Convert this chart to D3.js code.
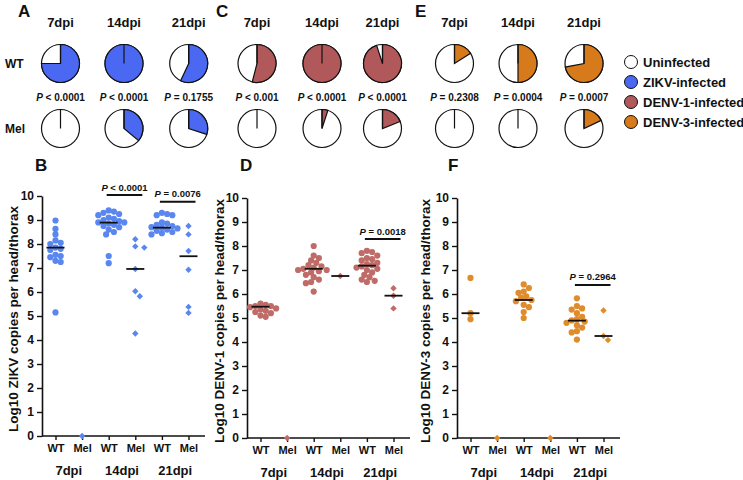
<!DOCTYPE html>
<html><head><meta charset="utf-8">
<script src="https://cdn.jsdelivr.net/npm/d3@7"></script>
<style>
body{margin:0;background:#fff}
svg{display:block;font-family:"Liberation Sans",Arial,sans-serif;font-weight:bold}
</style>
</head><body><svg id="c" width="743" height="480"></svg>
<script>
// ---------- DATA ----------
const dpiLabels = ["7dpi", "14dpi", "21dpi"];
const genotypeLabels = ["WT", "Mel"];
const yTickValues = [0,1,2,3,4,5,6,7,8,9,10];
const legendLabels = ["Uninfected", "ZIKV-infected", "DENV-1-infected", "DENV-3-infected"];
const legendColors = ["#ffffff", "#4a68f2", "#b0585a", "#d67a1c"];

// infected fractions (pie charts)
const zikvPieWT = [0.75, 1, 0.57];
const zikvPieMel = [0, 0.36, 0.30];
const denv1PieWT = [0.54, 1, 0.95];
const denv1PieMel = [0, 0.05, 0.19];
const denv3PieWT = [0.16, 0.5, 0.72];
const denv3PieMel = [0, 0, 0.18];
const zikvPieP = ["< 0.0001", "< 0.0001", "= 0.1755"];
const denv1PieP = ["< 0.001", "< 0.0001", "< 0.0001"];
const denv3PieP = ["= 0.2308", "= 0.0004", "= 0.0007"];

// Log10 copies per head/thorax
const zikvWT7 = [8.98, 8.63, 8.4, 8.15, 8.05, 8.0, 7.85, 7.8, 7.75, 7.55, 7.5, 7.45, 7.3, 7.25, 5.15];
const zikvMel7 = [0];
const zikvWT14 = [9.4, 9.35, 9.3, 9.25, 9.2, 9.1, 9.05, 9.0, 8.95, 8.9, 8.9, 8.85, 8.8, 8.75, 8.7, 8.6, 8.5, 8.4, 7.5, 7.2];
const zikvMel14 = [8.2, 7.9, 7.85, 6.96, 6.03, 5.82, 4.27];
const zikvWT21 = [9.3, 9.25, 9.2, 9.2, 8.9, 8.85, 8.8, 8.75, 8.7, 8.68, 8.65, 8.6, 8.55, 8.5, 8.45, 8.4];
const zikvMel21 = [8.75, 8.4, 7.71, 6.93, 5.38, 5.13];
const zikvMedians = [7.85, null, 8.89, 6.96, 8.68, 7.49];

const denv1WT7 = [5.6, 5.55, 5.5, 5.5, 5.45, 5.4, 5.35, 5.3, 5.25, 5.2, 5.1, 5.05];
const denv1Mel7 = [0];
const denv1WT14 = [8.0, 7.6, 7.5, 7.4, 7.3, 7.2, 7.15, 7.1, 7.05, 7.0, 7.0, 6.95, 6.9, 6.8, 6.7, 6.6, 6.5, 6.45, 6.1];
const denv1Mel14 = [6.75];
const denv1WT21 = [7.8, 7.75, 7.7, 7.6, 7.5, 7.45, 7.4, 7.3, 7.25, 7.2, 7.15, 7.1, 7.05, 7.0, 6.9, 6.8, 6.7, 6.6, 6.55, 6.5];
const denv1Mel21 = [6.24, 5.93, 5.4];
const denv1Medians = [5.47, null, 7.05, 6.75, 7.18, 5.93];

const denv3WT7 = [6.67, 5.2, 4.95];
const denv3Mel7 = [0];
const denv3WT14 = [6.4, 6.25, 6.1, 6.05, 5.9, 5.85, 5.75, 5.7, 5.55, 5.45, 5.25, 5.0];
const denv3Mel14 = [0];
const denv3WT21 = [5.82, 5.5, 5.4, 5.35, 5.2, 5.05, 4.95, 4.9, 4.85, 4.8, 4.7, 4.6, 4.45, 4.4, 4.1];
const denv3Mel21 = [5.31, 4.25, 4.08];
const denv3Medians = [5.2, null, 5.75, null, 4.89, 4.25];

// significance bars: [group index, label, level]
const zikvSig = [[1, "< 0.0001", 10.04], [2, "= 0.0076", 9.76]];
const denv1Sig = [[2, "= 0.0018", 8.29]];
const denv3Sig = [[2, "= 0.2964", 6.38]];

// ---------- DRAW ----------
const svg = d3.select("#c");
const ink = "#111";

function letter(txt, x, y) {
  svg.append("text").attr("x", x).attr("y", y).attr("font-size", 17).attr("fill", ink).text(txt);
}
function pText(g, x, y, rest, size) {
  const t = g.append("text").attr("x", x).attr("y", y).attr("text-anchor", "middle")
    .attr("font-size", size).attr("fill", ink);
  t.append("tspan").attr("font-style", "italic").text("P");
  t.append("tspan").text(" " + rest);
}

// ----- Pie rows -----
const pieR = 19;
const arc = d3.arc().innerRadius(0).outerRadius(pieR).startAngle(0);
function pieBlock(cx, wt, mel, pLabels, color) {
  const g = svg.append("g");
  const rows = [wt, mel];
  const rowY = [63.5, 128.5];
  dpiLabels.forEach((lab, i) => {
    g.append("text").attr("x", cx[i]).attr("y", 27).attr("text-anchor", "middle")
      .attr("font-size", 13).attr("fill", ink).text(lab);
    rows.forEach((row, r) => {
      const pg = g.append("g").attr("transform", `translate(${cx[i]},${rowY[r]})`);
      pg.append("circle").attr("r", pieR).attr("fill", "#fff").attr("stroke", ink).attr("stroke-width", 1.2);
      if (row[i] > 0) {
        pg.append("path").attr("d", arc({endAngle: row[i] * 2 * Math.PI}))
          .attr("fill", color).attr("stroke", ink).attr("stroke-width", 1.2);
      }
      pg.append("line").attr("x1", 0).attr("y1", 0).attr("x2", 0).attr("y2", -pieR)
        .attr("stroke", ink).attr("stroke-width", 1.2);
    });
    pText(g, cx[i], 101, pLabels[i], 10);
  });
}
pieBlock([60.5, 124, 188.7], zikvPieWT, zikvPieMel, zikvPieP, legendColors[1]);
pieBlock([257, 322, 382.5], denv1PieWT, denv1PieMel, denv1PieP, legendColors[2]);
pieBlock([454.5, 518, 584], denv3PieWT, denv3PieMel, denv3PieP, legendColors[3]);

svg.append("text").attr("x", 5).attr("y", 68).attr("font-size", 12).attr("fill", ink).text("WT");
svg.append("text").attr("x", 5).attr("y", 133).attr("font-size", 12).attr("fill", ink).text("Mel");

letter("A", 18, 17);
letter("C", 216, 17);
letter("E", 415, 17);

// legend
const lg = svg.append("g");
legendLabels.forEach((lab, i) => {
  const y = 62 + i * 20;
  lg.append("circle").attr("cx", 631).attr("cy", y).attr("r", 6.5)
    .attr("fill", legendColors[i]).attr("stroke", ink).attr("stroke-width", 1);
  lg.append("text").attr("x", 643).attr("y", y + 4.6).attr("font-size", 13).attr("fill", ink).text(lab);
});

// ----- Scatter panels -----
function swarm(vals, y, minDist, step) {
  const items = vals.map((v, i) => ({v, i, y: y(v)})).sort((a, b) => b.v - a.v);
  const placed = [];
  items.forEach(it => {
    let k = 0, dx = 0;
    while (true) {
      dx = k === 0 ? 0 : (k % 2 ? 1 : -1) * Math.ceil(k / 2) * step;
      const ok = placed.every(p => Math.hypot(p.dx - dx, p.y - it.y) >= minDist);
      if (ok) break;
      k++;
    }
    it.dx = dx;
    placed.push(it);
  });
  return items;
}

const diamond = "M0,-3.2L3.2,0L0,3.2L-3.2,0Z";

function scatterPanel(opts) {
  const {x0, yBottom, yTop, groups, medians, sig, ptColor, title, titleX} = opts;
  const g = svg.append("g");
  const cats = d3.range(6);
  const x = d3.scalePoint().domain(cats).range([x0 + 13.5, x0 + 146.5]);
  const y = d3.scaleLinear().domain([0, 10]).range([yBottom, yTop]);

  // y axis
  const ya = g.append("g").attr("transform", `translate(${x0},0)`)
    .call(d3.axisLeft(y).tickValues(yTickValues).tickSize(5).tickPadding(3).tickSizeOuter(0));
  ya.select(".domain").attr("stroke", ink).attr("stroke-width", 1.6);
  ya.selectAll(".tick line").attr("stroke", ink).attr("stroke-width", 1.4);
  ya.selectAll(".tick text").attr("font-size", 12).attr("font-family", "Liberation Sans, Arial, sans-serif")
    .attr("font-weight", "bold").attr("fill", ink);

  // x axis
  g.append("line").attr("x1", x0).attr("x2", x0 + 163).attr("y1", yBottom).attr("y2", yBottom)
    .attr("stroke", ink).attr("stroke-width", 1.6);
  const xa = g.append("g").attr("transform", `translate(0,${yBottom})`)
    .call(d3.axisBottom(x).tickSize(4).tickSizeOuter(0).tickFormat(i => genotypeLabels[i % 2]).tickPadding(4));
  xa.select(".domain").remove();
  xa.selectAll(".tick line").attr("stroke", ink).attr("stroke-width", 1.4);
  xa.selectAll(".tick text").attr("font-size", 11).attr("font-family", "Liberation Sans, Arial, sans-serif")
    .attr("font-weight", "bold").attr("fill", ink);

  dpiLabels.forEach((lab, i) => {
    g.append("text").attr("x", (x(2 * i) + x(2 * i + 1)) / 2).attr("y", yBottom + 39)
      .attr("text-anchor", "middle").attr("font-size", 13).attr("fill", ink).text(lab);
  });

  // y title
  g.append("text").attr("transform", `translate(${titleX},${(yBottom + yTop) / 2 + 3}) rotate(-90)`)
    .attr("text-anchor", "middle").attr("font-size", 13.5).attr("fill", ink).text(title);

  // points
  groups.forEach((vals, ci) => {
    const isMel = ci % 2 === 1;
    const pts = swarm(vals, y, isMel ? 6 : 5.2, isMel ? 4.5 : 2.6);
    pts.forEach(p => {
      if (isMel) {
        g.append("path").attr("d", diamond)
          .attr("transform", `translate(${x(ci) + p.dx},${p.y})`).attr("fill", ptColor);
      } else {
        g.append("circle").attr("cx", x(ci) + p.dx).attr("cy", p.y).attr("r", 3.1).attr("fill", ptColor);
      }
    });
  });

  // medians
  medians.forEach((m, ci) => {
    if (m === null) return;
    g.append("line").attr("x1", x(ci) - 9).attr("x2", x(ci) + 9).attr("y1", y(m)).attr("y2", y(m))
      .attr("stroke", ink).attr("stroke-width", 1.8);
  });

  // significance
  sig.forEach(([gi, lab, lvl]) => {
    const xa1 = x(2 * gi) - 2, xa2 = x(2 * gi + 1) + 7;
    g.append("line").attr("x1", xa1).attr("x2", xa2).attr("y1", y(lvl)).attr("y2", y(lvl))
      .attr("stroke", ink).attr("stroke-width", 2);
    pText(g, (xa1 + xa2) / 2, y(lvl) - 4.5, lab, 9.5);
  });
}

scatterPanel({x0: 42, yBottom: 436, yTop: 196,
  groups: [zikvWT7, zikvMel7, zikvWT14, zikvMel14, zikvWT21, zikvMel21],
  medians: zikvMedians, sig: zikvSig, ptColor: "#5a86f0",
  title: "Log10 ZIKV copies per head/thorax", titleX: 18});
scatterPanel({x0: 247, yBottom: 438, yTop: 198,
  groups: [denv1WT7, denv1Mel7, denv1WT14, denv1Mel14, denv1WT21, denv1Mel21],
  medians: denv1Medians, sig: denv1Sig, ptColor: "#bf6b68",
  title: "Log10 DENV-1 copies per head/thorax", titleX: 224});
scatterPanel({x0: 457, yBottom: 438, yTop: 198,
  groups: [denv3WT7, denv3Mel7, denv3WT14, denv3Mel14, denv3WT21, denv3Mel21],
  medians: denv3Medians, sig: denv3Sig, ptColor: "#df8c2c",
  title: "Log10 DENV-3 copies per head/thorax", titleX: 430});

letter("B", 35, 171);
letter("D", 240, 171);
letter("F", 448, 171);
</script></body></html>
